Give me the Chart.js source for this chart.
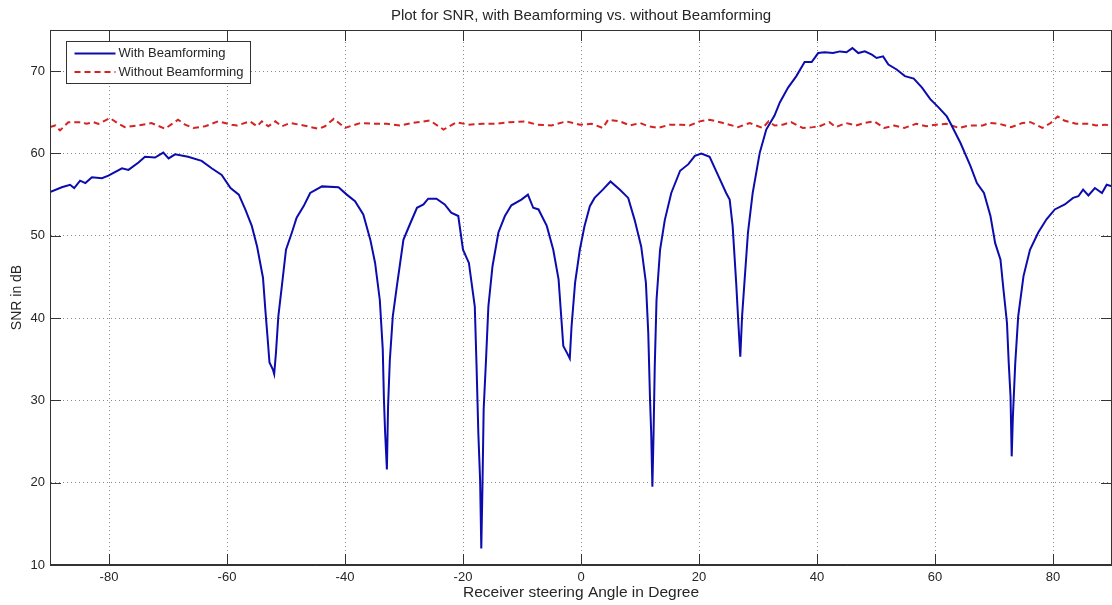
<!DOCTYPE html>
<html>
<head>
<meta charset="utf-8">
<title>SNR with vs. without Beamforming</title>
<script src="https://cdn.jsdelivr.net/npm/chart.js@4/dist/chart.umd.min.js"></script>
<style>
  html, body { margin: 0; padding: 0; background: #fff; }
  #wrap { width: 1112px; height: 605px; }
</style>
</head>
<body>
<div id="wrap"><canvas id="snrChart" width="1112" height="605"></canvas></div>
<script>
// steering angles (deg) and SNR (dB)
const angleWith = [
  -90, -88, -86.6, -85.9, -84.9, -84, -82.9, -81.2, -80.1, -77.8, -76.7, -75, -73.9, -72.2,
  -70.8, -69.9, -68.8, -66.6, -64.3, -62.6, -60.9, -59.4, -58, -56.9, -55.8, -54.9, -53.9,
  -53.5, -53.1, -52.8, -52.2, -52, -51.7, -51.3, -50.7, -50, -49, -48.2, -47, -45.9, -43.9,
  -41.1, -39.7, -38.3, -36.9, -35.7, -34.9, -34.1, -33.6, -33.4, -33.2, -32.9, -32.7, -32.4,
  -31.9, -31.2, -30.1, -29, -27.8, -26.7, -25.9, -24.5, -23.1, -22, -20.8, -20, -19, -18,
  -17.7, -17.4, -17.1, -16.9, -16.7, -16.5, -16.1, -15.7, -15, -14, -12.9, -11.8, -10.1, -9,
  -8.1, -7.2, -5.8, -4.7, -3.8, -3, -2.4, -1.9, -1.6, -1, -0.2, 0.6, 1.5, 2.3, 3.7, 5, 6.6,
  8, 9.1, 10.2, 11, 11.4, 11.7, 11.9, 12.1, 12.3, 12.5, 12.8, 13.4, 14.2, 15.3, 16.8, 18.2,
  19.3, 20.4, 21.8, 23.2, 24.6, 25.2, 25.7, 26.3, 26.7, 27, 27.3, 27.7, 28.3, 29.1, 30.3,
  31.4, 32.8, 33.7, 35.1, 36.5, 37.9, 39.1, 40.2, 41.3, 42.7, 43.9, 45, 46, 47, 48.1, 49.3,
  50.1, 51.2, 52.1, 53.5, 54.9, 56.4, 57.8, 59.2, 60.6, 62, 62.6, 64.3, 66, 67.1, 68.3, 69.4,
  70.2, 71.1, 71.6, 72.2, 72.5, 72.8, 73, 73.2, 73.6, 74.1, 75, 76.1, 77.5, 78.9, 80.3, 82,
  83.4, 84.3, 85.1, 86, 87.1, 88.3, 89.1, 90
];
const snrWith = [
  55.3, 55.9, 56.2, 55.8, 56.7, 56.4, 57.1, 57.0, 57.3, 58.2, 58.0, 58.9, 59.6, 59.5,
  60.1, 59.4, 59.9, 59.6, 59.1, 58.2, 57.4, 55.8, 55.0, 53.2, 51.2, 48.7, 44.9,
  41.0, 37.4, 34.6, 33.7, 33.2, 35.8, 40.2, 43.9, 48.3, 50.4, 52.2, 53.6, 55.2, 56.0,
  55.9, 55.0, 54.2, 52.6, 49.5, 46.7, 42.2, 36.2, 30.1, 26.1, 21.6, 29.3, 34.9,
  40.2, 43.9, 49.5, 51.4, 53.4, 53.8, 54.5, 54.5, 53.8, 52.8, 52.4, 48.3, 46.7, 41.4,
  34.1, 26.0, 20.3, 12.0, 19.6, 28.9, 34.9, 41.4, 46.3, 50.4, 52.4, 53.7, 54.4, 55.0,
  53.4, 53.2, 51.2, 48.3, 44.7, 36.6, 35.8, 35.1, 39.0, 44.3, 48.3, 51.2, 53.6, 54.6, 55.6, 56.6, 55.6,
  54.6, 51.9, 48.7, 44.3, 38.2, 30.1, 26.0, 19.5, 26.0, 34.1, 42.2, 48.3, 51.9, 55.2, 57.9, 58.7,
  59.7, 60.0, 59.6, 57.4, 55.2, 54.4, 51.2, 44.3, 39.0, 35.3, 40.2, 44.3, 50.4, 55.2, 60.1,
  62.9, 64.6, 66.2, 68.0, 69.4, 71.1, 71.1, 72.2, 72.3, 72.2, 72.4, 72.3, 72.8, 72.2, 72.4, 72.0,
  71.6, 71.8, 70.8, 70.2, 69.4, 69.1, 68.0, 66.6, 65.6, 64.5, 63.7, 61.3, 58.5, 56.4, 55.2, 52.4,
  49.1, 47.1, 43.5, 39.4, 34.5, 30.5, 23.2, 28.0, 34.5, 40.2, 45.1, 48.3, 50.4, 52.0, 53.2, 53.8,
  54.6, 54.8, 55.6, 54.9, 55.8, 55.2, 56.2, 56.0
];
const angleWithout = [
  -90, -89.1, -88.3, -86.9, -84.6, -83.8, -82.6, -81.8, -79.8, -78.4, -77.3, -75, -72.8,
  -70.5, -68.3, -67.1, -65.7, -63.7, -61.5, -59.2, -58.3, -56.1, -54.9, -54.1, -53, -51.8,
  -50.7, -49.3, -47, -44.5, -43.4, -41.9, -40, -37.4, -35.2, -32.9, -30.7, -28.7, -25.6,
  -23.3, -21.1, -19.1, -16.6, -14.3, -12.1, -9.5, -7.5, -5, -2.5, -0.2, 1.8, 3.7, 4.6, 6.6,
  8.3, 10, 11.4, 13.1, 15, 17, 18.4, 20.1, 21.8, 24.1, 26.6, 28.6, 30.8, 31.8, 32.8, 34.2,
  35.6, 37.6, 39.3, 40.4, 42.1, 43.2, 44.9, 46.6, 48, 49.7, 51.4, 53.1, 54.8, 56.8, 58.5,
  60.2, 61.9, 64.1, 65.8, 68.1, 69.2, 70.9, 72.9, 74.8, 76.2, 78.2, 79.6, 80.8, 81.9, 83.9,
  86.1, 87.3, 88.9, 90
];
const snrWithout = [
  63.2, 63.4, 62.8, 63.8, 63.8, 63.6, 63.8, 63.6, 64.3, 63.6, 63.2, 63.4, 63.7,
  63.0, 64.1, 63.5, 63.1, 63.3, 63.9, 63.5, 63.4, 63.9, 63.3, 63.9, 63.3, 63.9,
  63.3, 63.7, 63.4, 63.0, 63.3, 64.2, 63.1, 63.7, 63.6, 63.6, 63.4, 63.7, 64.0,
  62.9, 63.8, 63.5, 63.6, 63.6, 63.8, 63.9, 63.5, 63.4, 63.9, 63.5, 63.6, 63.1, 64.1, 63.9,
  63.4, 63.7, 63.3, 63.1, 63.5, 63.5, 63.4, 63.9, 64.1, 63.7, 63.2, 63.7, 63.1, 63.9, 63.4, 63.5,
  63.8, 63.1, 63.2, 63.3, 63.8, 63.2, 63.7, 63.4, 63.7, 63.9, 63.1, 63.4, 63.1, 63.6, 63.3,
  63.5, 63.6, 63.1, 63.4, 63.4, 63.7, 63.6, 63.2, 63.7, 63.8, 63.1, 63.7, 64.5, 64.0, 63.6,
  63.6, 63.4, 63.5, 63.3
];
const xTicks = [-80, -60, -40, -20, 0, 20, 40, 60, 80];
const yTicks = [10, 20, 30, 40, 50, 60, 70];

const FONT = '"Liberation Sans", Arial, Helvetica, sans-serif';
const INK = '#262626';

function toPoints(xs, ys) {
  return xs.map((x, i) => ({x: x, y: ys[i]}));
}

// MATLAB style box: full frame, inward ticks, legend in the top left
const matlabAxes = {
  id: 'matlabAxes',
  afterDraw(chart) {
    const {ctx, chartArea: a} = chart;
    const xs = chart.scales.x;
    const ys = chart.scales.y;
    const len = 11;
    ctx.save();
    ctx.strokeStyle = '#333';
    ctx.lineWidth = 1;
    ctx.beginPath();
    xTicks.forEach((v) => {
      const px = Math.round(xs.getPixelForValue(v)) + 0.5;
      ctx.moveTo(px, a.bottom); ctx.lineTo(px, a.bottom - len);
      ctx.moveTo(px, a.top); ctx.lineTo(px, a.top + len);
    });
    yTicks.forEach((v) => {
      const py = Math.round(ys.getPixelForValue(v)) + 0.5;
      ctx.moveTo(a.left, py); ctx.lineTo(a.left + len, py);
      ctx.moveTo(a.right, py); ctx.lineTo(a.right - len, py);
    });
    ctx.stroke();
    ctx.strokeRect(Math.round(a.left) + 0.5, Math.round(a.top) + 0.5,
        Math.round(a.right - a.left) - 1, Math.round(a.bottom - a.top) - 1);

    // legend
    const bx = 66.5, by = 41.5, bw = 184, bh = 42;
    ctx.fillStyle = '#fff';
    ctx.fillRect(bx, by, bw, bh);
    ctx.strokeStyle = '#333';
    ctx.strokeRect(bx, by, bw, bh);
    ctx.font = '13px ' + FONT;
    ctx.textBaseline = 'middle';
    ctx.textAlign = 'left';
    chart.data.datasets.forEach((ds, i) => {
      const ly = 53.5 + i * 18.5;
      ctx.strokeStyle = ds.borderColor;
      ctx.lineWidth = 2;
      ctx.setLineDash(ds.borderDash || []);
      ctx.beginPath();
      ctx.moveTo(bx + 8, ly); ctx.lineTo(bx + 49, ly);
      ctx.stroke();
      ctx.setLineDash([]);
      ctx.fillStyle = INK;
      ctx.fillText(ds.label, bx + 52, ly);
    });
    ctx.restore();
  },
};

const ctx = document.getElementById('snrChart').getContext('2d');
new Chart(ctx, {
  type: 'line',
  data: {
    datasets: [
      {
        label: 'With Beamforming',
        data: toPoints(angleWith, snrWith),
        borderColor: '#0c0cae',
        borderWidth: 2,
        pointRadius: 0,
        tension: 0,
        fill: false,
      },
      {
        label: 'Without Beamforming',
        data: toPoints(angleWithout, snrWithout),
        borderColor: '#d42323',
        borderWidth: 2,
        borderDash: [6, 4],
        pointRadius: 0,
        tension: 0,
        fill: false,
      },
    ],
  },
  options: {
    responsive: false,
    animation: false,
    events: [],
    layout: {padding: {left: 0, right: 0, top: 0, bottom: 0}},
    plugins: {
      legend: {display: false},
      tooltip: {enabled: false},
      title: {
        display: true,
        fullSize: false,
        text: 'Plot for SNR, with Beamforming vs. without Beamforming',
        color: INK,
        font: {family: FONT, size: 15, weight: 'normal'},
        padding: {top: 7, bottom: 5},
      },
    },
    scales: {
      x: {
        type: 'linear',
        min: -90,
        max: 90,
        afterBuildTicks: (axis) => {
          axis.ticks = xTicks.map((v) => ({value: v}));
        },
        afterFit: (axis) => {
          axis.height = 40;
        },
        ticks: {color: INK, font: {family: FONT, size: 13}, padding: 5, maxRotation: 0},
        grid: {color: '#8a8a8a', drawTicks: false, lineWidth: 1},
        border: {display: true, color: '#333', dash: [1, 3]},
        title: {
          display: true,
          text: 'Receiver steering Angle in Degree',
          color: INK,
          font: {family: FONT, size: 15.5},
          padding: {top: 0, bottom: 3},
        },
      },
      y: {
        type: 'linear',
        min: 10,
        max: 75,
        afterBuildTicks: (axis) => {
          axis.ticks = yTicks.map((v) => ({value: v}));
        },
        afterFit: (axis) => {
          axis.width = 50;
        },
        ticks: {color: INK, font: {family: FONT, size: 13}, padding: 5},
        grid: {color: '#8a8a8a', drawTicks: false, lineWidth: 1},
        border: {display: true, color: '#333', dash: [1, 3]},
        title: {
          display: true,
          text: 'SNR in dB',
          color: INK,
          font: {family: FONT, size: 14},
          padding: {top: 9, bottom: 0},
        },
      },
    },
  },
  plugins: [matlabAxes],
});
</script>
</body>
</html>
